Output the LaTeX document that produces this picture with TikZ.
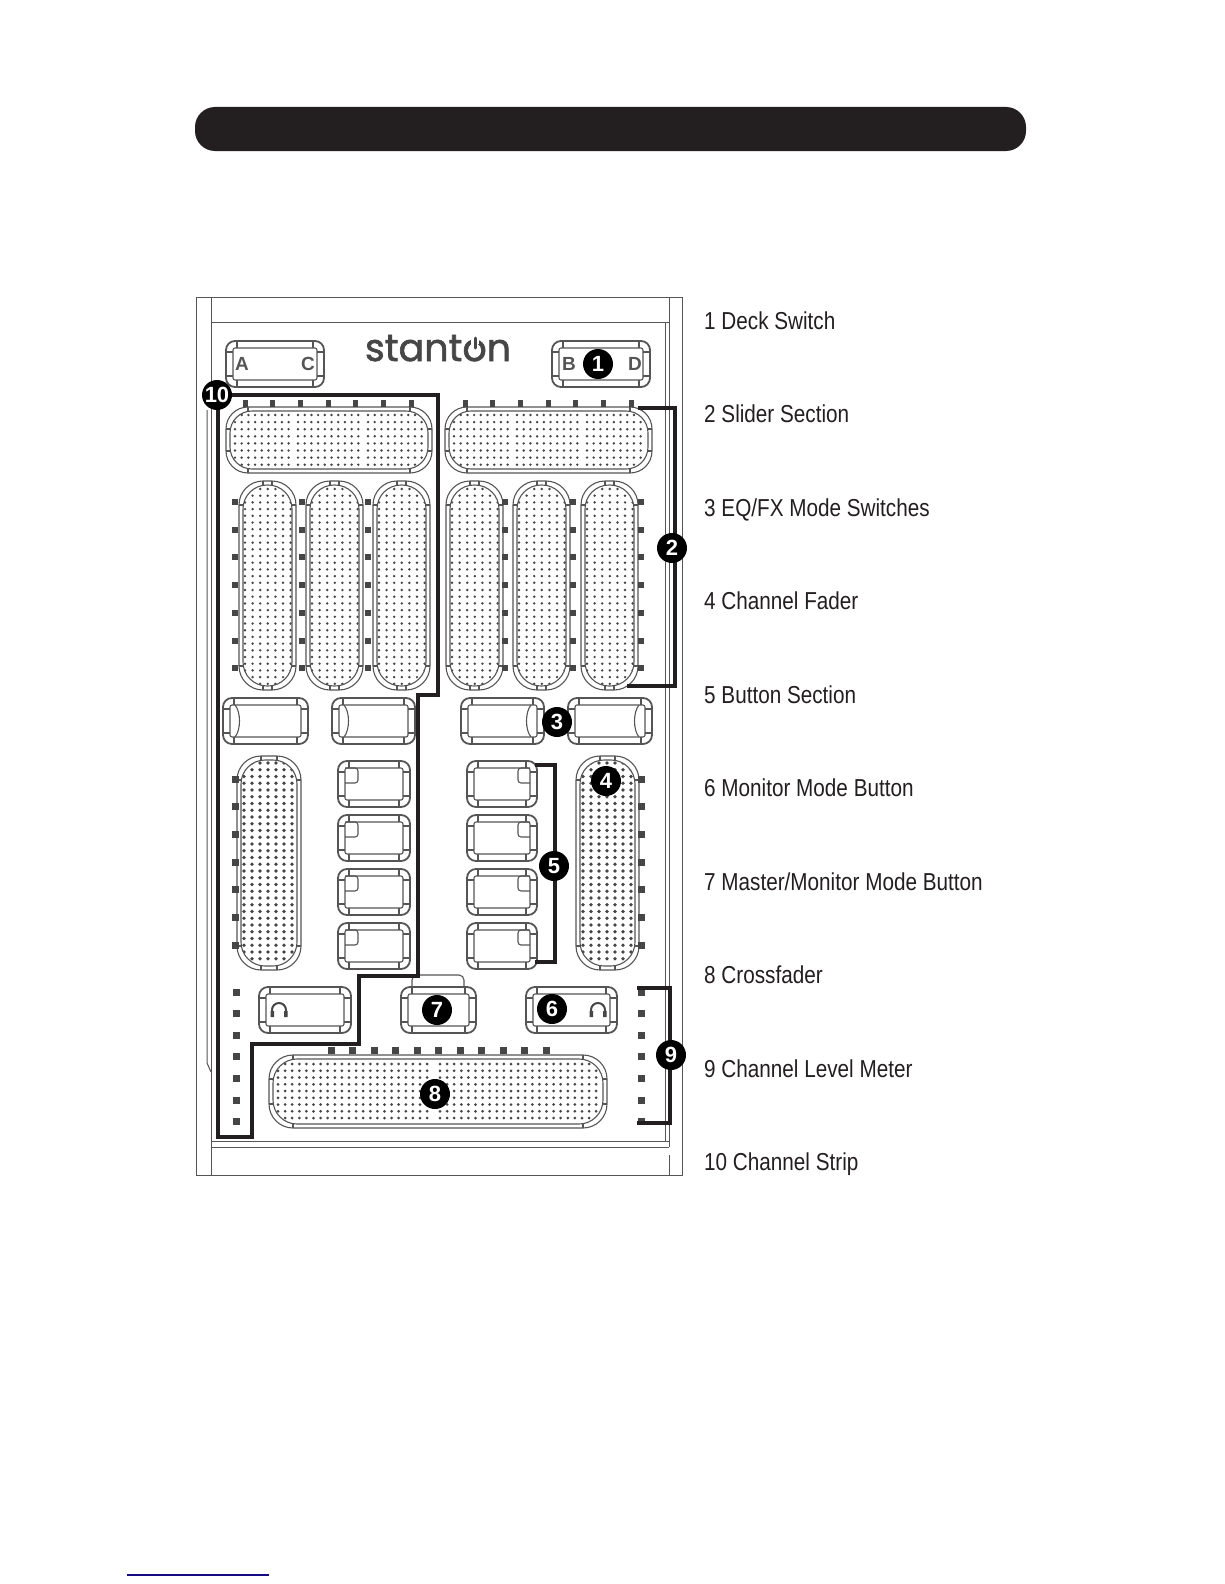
\documentclass[tikz,border=0pt]{standalone}
\usepackage{fontspec}
\setmainfont{Liberation Sans}
\newfontfamily\labelfont[FakeStretch=0.845]{Liberation Sans}
\newfontfamily\logofont[FakeBold=1.6]{Poppins}
\usetikzlibrary{positioning, calc}
\definecolor{cPanel}{RGB}{85,85,85}
\definecolor{cInk}{RGB}{35,31,32}
\definecolor{cTick}{RGB}{70,70,70}
\definecolor{cRule}{RGB}{20,10,130}
\tikzset{
	panel/.style   ={draw=cPanel, line width=1pt},
	capline/.style ={draw=cPanel, line width=1.8pt},
	capfine/.style ={draw=cPanel, line width=1.1pt},
	padline/.style ={draw=cPanel, line width=1.1pt},
	leader/.style  ={draw=cInk, line width=3.6pt, line join=miter},
	badge/.style   ={circle, fill=black, text=white, font=\bfseries\fontsize{22}{22}\selectfont, minimum size=30pt, inner sep=0pt},
	itemlabel/.style={anchor=base west, inner sep=0pt, text=cInk, font=\labelfont\fontsize{24.5}{26}\selectfont},
	decklabel/.style={inner sep=0pt, text=cPanel, font=\bfseries\fontsize{19}{19}\selectfont},
}
% button cap: outer outline, inner face, corner ticks
\newcommand{\capbtn}[4]{%
	\draw[capline, rounded corners=9pt] (#1,#2) rectangle (#3,#4);
	\draw[capfine, rounded corners=2pt] ({#1+7},{#2+7}) rectangle ({#3-7},{#4-7});
	\draw[capfine] ({#1+11},#2) -- ++(0,7) ({#3-11},#2) -- ++(0,7) ({#1+11},#4) -- ++(0,-7) ({#3-11},#4) -- ++(0,-7);
	\draw[capfine] (#1,{#2+11}) -- ++(7,0) (#3,{#2+11}) -- ++(-7,0) (#1,{#4-11}) -- ++(7,0) (#3,{#4-11}) -- ++(-7,0);
}
% rows of holes: x0, last col, dx, y0, last row, dy, radius
\newcommand{\holes}[7]{%
	\fill[cTick] \foreach \i in {0,...,#2} {\foreach \j in {0,...,#5} {({#1+\i*#3},{#4+\j*#6}) circle (#7)}};
}
% slider outline, arg 5 radius, arg 6 the holes
\newcommand{\slidepad}[6]{%
	\begin{scope}
		\clip[rounded corners=#5pt] ({#1+4},{#2+4}) rectangle ({#3-4},{#4-4});
		#6
	\end{scope}
	\draw[padline, rounded corners=#5pt] (#1,#2) rectangle (#3,#4);
	\draw[padline, rounded corners=#5pt] ({#1+4},{#2+4}) rectangle ({#3-4},{#4-4});
	\draw[padline] ({#1+#5},#2) -- ++(0,4) ({#3-#5},#2) -- ++(0,4) ({#1+#5},#4) -- ++(0,-4) ({#3-#5},#4) -- ++(0,-4);
	\draw[padline] (#1,{#2+#5}) -- ++(4,0) (#3,{#2+#5}) -- ++(-4,0) (#1,{#4-#5}) -- ++(4,0) (#3,{#4-#5}) -- ++(-4,0);
}
\begin{document}
\begin{tikzpicture}[x=1pt, y=-1pt]
	\useasboundingbox (0,0) rectangle (1224,1584);
	\fill[white] (0,0) rectangle (1224,1584);
	% title bar
	\fill[cInk, rounded corners=20pt] (195,107) rectangle (1026,151);
	% housing
	\draw[panel] (196,297) rectangle (682,1175);
	\draw[panel] (211,297) -- (211,1175);
	\draw[panel] (669,297) -- (669,1147) (669,1155) -- (669,1175);
	\draw[panel] (211,322) -- (669,322);
	\draw[panel] (665,322) -- (665,1141);
	\draw[panel] (211,1141) -- (669,1141);
	\draw[panel] (211,1147) -- (669,1147);
	\draw[panel] (207,410) -- (207,1063) -- (211,1072);
	% logo
	\node[anchor=base, inner sep=0pt, text=cTick, font=\logofont\fontsize{38}{38}\selectfont] (logo) at (438,361) {stanton};
	\fill[white] (471,334) rectangle (479,344);
	\draw[cTick, line width=3pt, line cap=round] (475,338) -- (475,348);
	% deck switches
	\capbtn{226}{341}{324}{387}
	\capbtn{552}{341}{650}{387}
	\node[decklabel] (deckA) at (242,364) {A};
	\node[decklabel] (deckC) at (308,364) {C};
	\node[decklabel] (deckB) at (569,364) {B};
	\node[decklabel] (deckD) at (635,364) {D};
	% slider section, horizontal
	\slidepad{226}{407}{432}{473}{22}{\holes{235}{8}{6.7}{415}{7}{7.1}{1.35}\holes{298}{9}{6.7}{415}{7}{7.1}{1.35}\holes{368}{8}{6.7}{415}{7}{7.1}{1.35}}
	\slidepad{445}{407}{652}{473}{22}{\holes{454}{8}{6.7}{415}{7}{7.1}{1.35}\holes{517}{9}{6.7}{415}{7}{7.1}{1.35}\holes{587}{8}{6.7}{415}{7}{7.1}{1.35}}
	\foreach \x in {0,...,6} {
		\fill[cTick] ({245+\x*27.7-2.5},400) rectangle ++(5,7);
		\fill[cTick] ({465+\x*27.7-2.5},400) rectangle ++(5,7);
	}
	% slider section, vertical
	\foreach \x in {239,306,373,446,513,581} {
		\slidepad{\x}{481}{\x+57}{690}{24}{\holes{\x+6}{6}{7.6}{489}{14}{6.7}{1.35}\holes{\x+6}{6}{7.6}{590}{14}{6.7}{1.35}}
	}
	\foreach \x in {235,302,368,505,573,641} {
		\foreach \y in {0,...,6} {
			\fill[cTick] ({\x-3},{502+\y*27.7-3}) rectangle ++(6,6);
		}
	}
	% EQ/FX mode switches
	\capbtn{223}{698}{308}{744}
	\capbtn{332}{698}{415}{744}
	\capbtn{461}{698}{544}{744}
	\capbtn{568}{698}{652}{744}
	\foreach \x in {230,339} {
		\draw[capfine] ({\x+5},705) .. controls ({\x+11},712) and ({\x+11},730) .. ({\x+5},737);
	}
	\foreach \x in {537,645} {
		\draw[capfine] ({\x-6},705) .. controls ({\x-12},712) and ({\x-12},730) .. ({\x-6},737);
	}
	% channel faders
	\slidepad{237}{756}{301}{970}{24}{\holes{244}{6}{8}{763}{29}{6.75}{1.8}}
	\slidepad{576}{756}{639}{970}{24}{\holes{583}{6}{8}{763}{29}{6.75}{1.8}}
	\foreach \x in {235,641} {
		\foreach \y in {0,...,6} {
			\fill[cTick] ({\x-3.5},{779+\y*27.7-3.5}) rectangle ++(7,7);
		}
	}
	% button section
	\foreach \y in {761,815,869,923} {
		\capbtn{338}{\y}{410}{\y+46}
		\capbtn{467}{\y}{537}{\y+46}
		\draw[capfine, rounded corners=3pt] (345,{\y+7}) -- (358,{\y+7}) -- (358,{\y+22}) -- (345,{\y+22});
		\draw[capfine, rounded corners=3pt] (530,{\y+7}) -- (518,{\y+7}) -- (518,{\y+22}) -- (530,{\y+22});
	}
	% monitor buttons
	\capbtn{259}{987}{351}{1033}
	\capbtn{401}{987}{476}{1033}
	\capbtn{526}{987}{617}{1033}
	\draw[capfine, rounded corners=5pt] (412,986) -- (412,975) -- (464,975) -- (464,986);
	\foreach \x in {279,598} {
		\draw[cTick, line width=2pt] ({\x-7},1016) -- ({\x-7},1010) arc[start angle=180, end angle=360, radius=7] -- ({\x+7},1016);
		\fill[cTick] ({\x-8.5},1011) rectangle ++(3.5,6) ({\x+5},1011) rectangle ++(3.5,6);
	}
	% crossfader
	\slidepad{269}{1055}{607}{1128}{24}{\holes{278}{21}{7.1}{1064}{8}{6.75}{1.5}\holes{440}{22}{7.1}{1064}{8}{6.75}{1.5}}
	\foreach \x in {0,...,10} {
		\fill[cTick] ({331+\x*21.5-3.5},1047) rectangle ++(7,7);
	}
	% level meters
	\foreach \x in {236,641} {
		\foreach \y in {0,...,6} {
			\fill[cTick] ({\x-3.5},{992+\y*21.6-3.5}) rectangle ++(7,7);
		}
	}
	% leaders
	\coordinate (sliderTop) at (638,408);
	\coordinate (sliderEnd) at (627,686);
	\coordinate (buttonTop) at (535,765);
	\coordinate (buttonEnd) at (535,962);
	\coordinate (meterTop) at (637,988);
	\coordinate (meterEnd) at (637,1123);
	\draw[leader] (sliderTop) -- (675,408) -- (675,686) -- (sliderEnd);
	\draw[leader] (buttonTop) -- (555,765) -- (555,962) -- (buttonEnd);
	\draw[leader] (meterTop) -- (670,988) -- (670,1123) -- (meterEnd);
	\draw[leader] (218,395) -- (438,395) -- (438,695) -- (418,695) -- (418,976) -- (359,976) -- (359,1044) -- (252,1044) -- (252,1137) -- (218,1137) -- cycle;
	% badges
	\node[badge] (num1) at (598,364) {1};
	\node[badge] (num2) at (672,548) {2};
	\node[badge] (num3) at (557,722) {3};
	\node[badge] (num4) at (606,781) {4};
	\node[badge] (num5) at (554,866) {5};
	\node[badge] (num6) at (552,1009) {6};
	\node[badge] (num7) at (437,1010) {7};
	\node[badge] (num8) at (435,1094) {8};
	\node[badge] (num9) at (671,1055) {9};
	\node[badge] (num10) at (217,395) {10};
	% legend
	\node[itemlabel] (item1) at (704,329) {1 Deck Switch};
	\node[itemlabel] (item2) at (704,422.5) {2 Slider Section};
	\node[itemlabel] (item3) at (704,516) {3 EQ/FX Mode Switches};
	\node[itemlabel] (item4) at (704,609.5) {4 Channel Fader};
	\node[itemlabel] (item5) at (704,703) {5 Button Section};
	\node[itemlabel] (item6) at (704,796.5) {6 Monitor Mode Button};
	\node[itemlabel] (item7) at (704,890) {7 Master/Monitor Mode Button};
	\node[itemlabel] (item8) at (704,983.5) {8 Crossfader};
	\node[itemlabel] (item9) at (704,1077) {9 Channel Level Meter};
	\node[itemlabel] (item10) at (704,1170.5) {10 Channel Strip};
	% footnote rule
	\draw[cRule, line width=1.2pt] (127,1575) -- (269,1575);
\end{tikzpicture}
\end{document}
